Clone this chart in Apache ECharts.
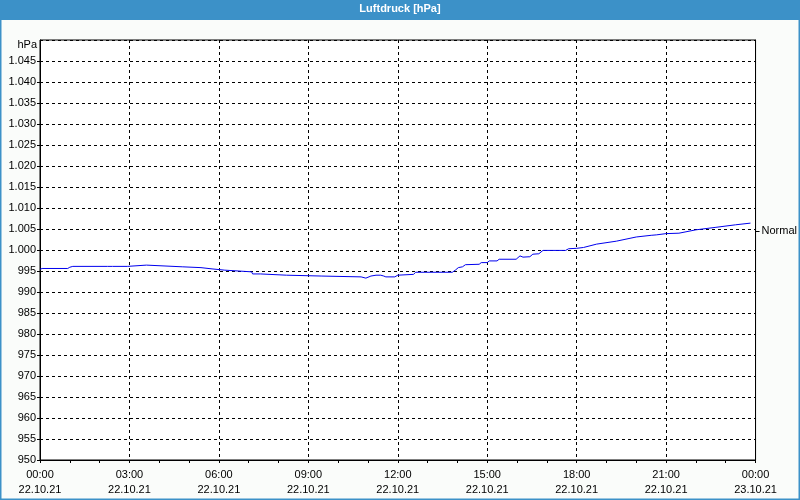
<!DOCTYPE html>
<html>
<head>
<meta charset="utf-8">
<script src="https://cdn.jsdelivr.net/npm/echarts@6/dist/echarts.min.js"></script>
<style>
html,body{margin:0;padding:0;background:#fafcfa;}
#chart{width:800px;height:500px;}
</style>
</head>
<body>
<div id="chart"></div>
<script>
// Hours since 22.10.21 00:00
var hours = [0.0,0.07,0.93,1.0,1.1,2.27,2.33,2.43,2.93,2.97,3.57,3.6,4.77,4.8,5.4,5.43,5.77,5.8,
  6.2,6.23,7.1,7.13,7.4,7.43,8.27,8.3,9.43,9.47,10.77,10.83,10.93,11.1,11.27,11.43,11.53,11.6,11.9,12.0,
  12.03,12.53,12.6,13.83,13.93,14.03,14.17,14.27,14.73,14.8,15.0,15.07,15.33,15.4,15.97,16.1,16.2,16.43,16.53,16.73,16.87,17.63,17.73,18.0,
  18.23,18.67,19.33,20.0,20.5,20.67,21.0,21.43,22.0,22.67,23.33,23.83];
var pressure = [995.4,995.6,995.6,995.9,996.1,996.1,996.4,996.1,996.1,996.4,996.4,996.0,996.0,995.8,995.8,995.5,995.5,995.2,
  995.2,994.8,994.8,994.3,994.3,994.0,994.0,993.8,993.8,993.6,993.6,993.3,993.3,993.8,994.0,994.0,993.8,993.6,993.6,994.0,
  994.2,994.2,994.7,994.7,995.2,995.8,996.0,996.5,996.6,997.0,997.0,997.4,997.4,997.8,997.8,998.6,998.3,998.4,999.0,999.1,999.9,999.9,1000.3,1000.4,
  1000.6,1001.4,1002.1,1003.1,1003.5,1003.6,1003.9,1004.0,1004.8,1005.4,1006.0,1006.4];
var normalValue = 1004.5;
var xTickTimes = ['00:00','03:00','06:00','09:00','12:00','15:00','18:00','21:00','00:00'];
var xTickDates = ['22.10.21','22.10.21','22.10.21','22.10.21','22.10.21','22.10.21','22.10.21','22.10.21','23.10.21'];
var yTickLabels = ['950','955','960','965','970','975','980','985','990','995','1.000','1.005','1.010','1.015','1.020','1.025','1.030','1.035','1.040','1.045','1.050'];

var FONT = '"Liberation Sans Narrow", "Liberation Sans", sans-serif';
var seriesData = hours.map(function (h, i) { return [h, pressure[i]]; });

var chart = echarts.init(document.getElementById('chart'), null, {renderer: 'canvas'});
chart.setOption({
  animation: false,
  backgroundColor: '#fafcfa',
  graphic: [
    {type: 'rect', shape: {x: 0, y: 0, width: 800, height: 20}, style: {fill: '#3c91c8'}, z: 0},
    {type: 'rect', shape: {x: 0.75, y: 0.75, width: 798.5, height: 498.5}, style: {fill: 'none', stroke: '#3c91c8', lineWidth: 1.5}, z: 0}
  ],
  title: {
    text: 'Luftdruck [hPa]',
    left: 'center',
    top: 3,
    padding: 0,
    textStyle: {color: '#ffffff', fontSize: 11, fontWeight: 'bold', fontFamily: '"Liberation Sans", sans-serif'}
  },
  grid: {
    left: 40, right: 40, top: 40, bottom: 40,
    show: true, backgroundColor: '#ffffff', borderColor: '#000', borderWidth: 1
  },
  xAxis: {
    type: 'value', min: 0, max: 24, interval: 3,
    axisLine: {show: true, lineStyle: {color: '#000', width: 1}},
    axisTick: {show: true, length: 3, lineStyle: {color: '#000'}},
    minorTick: {show: true, splitNumber: 3, length: 3, lineStyle: {color: '#000'}},
    splitLine: {show: true, lineStyle: {color: '#000', type: [3, 3], width: 1}},
    axisLabel: {
      margin: 7,
      color: '#000', fontSize: 11, fontFamily: FONT, lineHeight: 15,
      formatter: function (v) { var i = Math.round(v / 3); return xTickTimes[i] + '\n' + xTickDates[i]; }
    }
  },
  yAxis: [{
    type: 'value', min: 950, max: 1050, interval: 5,
    name: 'hPa', nameLocation: 'end', nameGap: -5,
    nameTextStyle: {color: '#000', fontSize: 11, fontFamily: FONT, align: 'right', verticalAlign: 'middle', padding: [0, 3, 0, 0]},
    axisLine: {show: true, lineStyle: {color: '#000', width: 1}},
    axisTick: {show: true, length: 3, lineStyle: {color: '#000'}},
    splitLine: {show: true, lineStyle: {color: '#000', type: [3, 3], width: 1}},
    axisLabel: {
      margin: 4, showMaxLabel: false,
      color: '#000', fontSize: 11, fontFamily: FONT,
      formatter: function (v) { return yTickLabels[Math.round((v - 950) / 5)]; }
    }
  }, {
    type: 'value', min: 950, max: 1050, position: 'right',
    axisLine: {show: true, lineStyle: {color: '#000', width: 1}},
    axisTick: {show: true, length: 4, customValues: [normalValue], lineStyle: {color: '#000'}},
    splitLine: {show: false},
    axisLabel: {
      show: true, margin: 6, customValues: [normalValue],
      color: '#000', fontSize: 11, fontFamily: FONT,
      formatter: function () { return 'Normal'; }
    }
  }],
  series: [{
    type: 'line',
    data: seriesData,
    showSymbol: false,
    symbol: 'none',
    lineStyle: {color: '#0000ee', width: 1},
    itemStyle: {color: '#0000ee'}
  }]
});
</script>
</body>
</html>
